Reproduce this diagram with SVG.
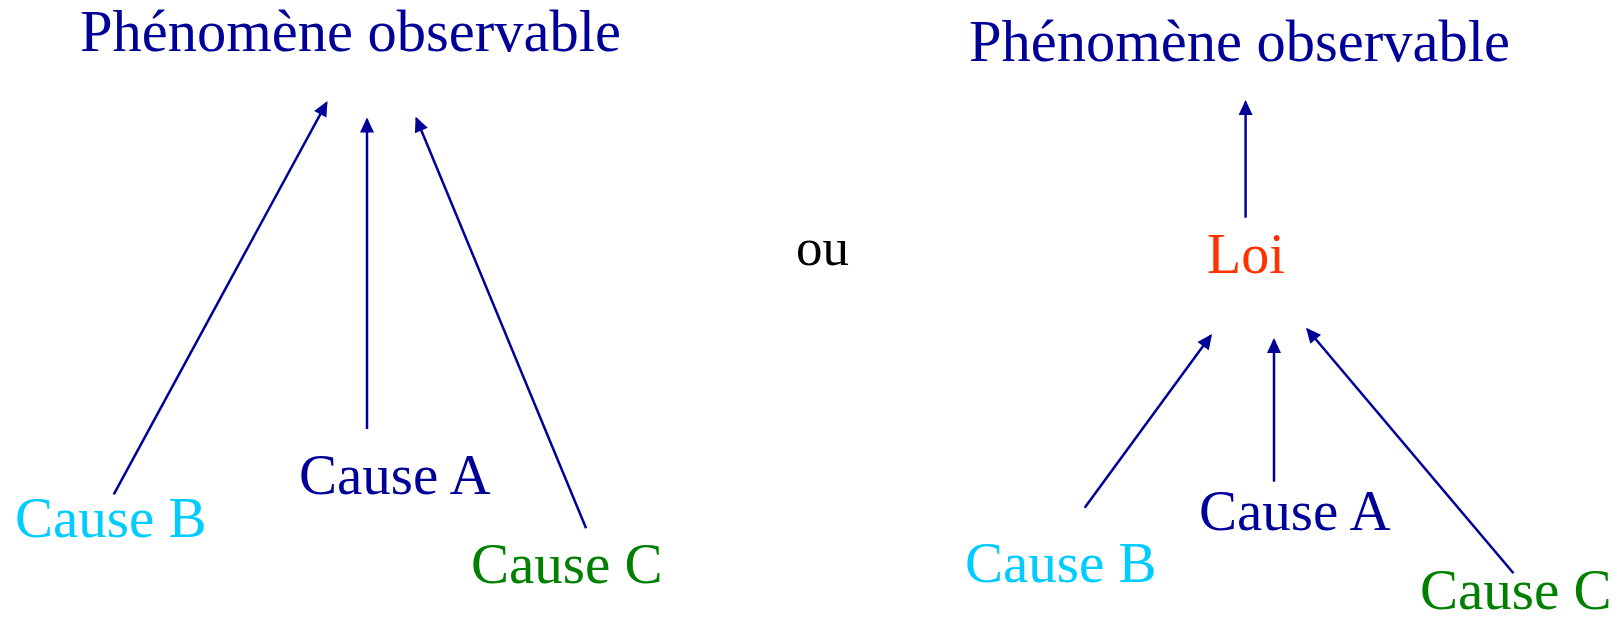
<svg xmlns="http://www.w3.org/2000/svg" width="1622" height="622" viewBox="0 0 1622 622">
<style>
text{font-family:"Liberation Serif","Times New Roman",serif;}
.t{font-size:58.5px;fill:#000099;}
.c{font-size:57px;}
.a{fill:#000099;}
.b{fill:#00CCFF;}
.g{fill:#008000;}
.loi{font-size:56px;fill:#FF3300;}
.ou{font-size:53px;fill:#000000;}
.conn line{stroke:#000099;stroke-width:2.5;fill:none;marker-end:url(#ah);}
</style>
<defs>
<marker id="ah" markerUnits="userSpaceOnUse" markerWidth="15" markerHeight="14" refX="13" refY="7" orient="auto" overflow="visible">
<path d="M0,0 L15,7 L0,14 Z" fill="#000099"/>
</marker>
</defs>
<rect width="1622" height="622" fill="#ffffff"/>
<g id="left-phenomene"><text class="t" x="80" y="51">Phénomène observable</text></g>
<g id="left-cause-a"><text class="c a" x="299" y="494">Cause A</text></g>
<g id="left-cause-b"><text class="c b" x="15" y="537">Cause B</text></g>
<g id="left-cause-c"><text class="c g" x="471" y="583">Cause C</text></g>
<g id="ou"><text class="ou" x="796" y="265">ou</text></g>
<g id="right-phenomene"><text class="t" x="969" y="61">Phénomène observable</text></g>
<g id="right-loi"><text class="loi" x="1207" y="273">Loi</text></g>
<g id="right-cause-a"><text class="c a" x="1199" y="530">Cause A</text></g>
<g id="right-cause-b"><text class="c b" x="965" y="582">Cause B</text></g>
<g id="right-cause-c"><text class="c g" x="1420" y="609">Cause C</text></g>
<g id="connectors" class="conn">
<line x1="113.8" y1="494.3" x2="326.5" y2="102.8"/>
<line x1="367" y1="429" x2="367" y2="119.5"/>
<line x1="586.1" y1="528.3" x2="416.4" y2="118.5"/>
<line x1="1245.6" y1="217.7" x2="1245.6" y2="102"/>
<line x1="1084.7" y1="507.7" x2="1210.8" y2="335.6"/>
<line x1="1274" y1="481.7" x2="1274" y2="340"/>
<line x1="1513.5" y1="573.3" x2="1307.3" y2="329.3"/>
</g>
</svg>
